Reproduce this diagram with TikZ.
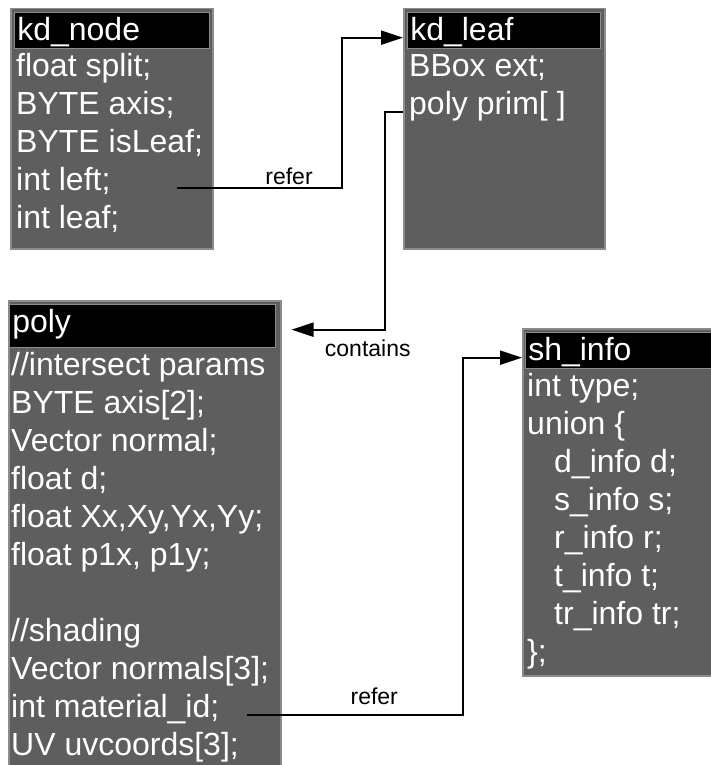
\documentclass[tikz,border=0pt]{standalone}
\usepackage{fontspec}
\setmainfont{Liberation Sans}
\usepackage{xcolor}
\usetikzlibrary{positioning,arrows.meta}
\definecolor{boxgray}{HTML}{5E5E5E}
\definecolor{boxedge}{HTML}{8C8C8C}
\newcommand{\fieldfont}{\fontsize{32pt}{38pt}\selectfont}
\newcommand{\labelfont}{\fontsize{23pt}{27pt}\selectfont}
\tikzset{
  structbox/.style={
    draw=boxedge,
    fill=boxgray,
    rectangle,
    anchor=north west,
    inner sep=0pt,
    line width=1.5pt,
  },
  headbar/.style={
    draw=boxedge,
    fill=black,
    text=white,
    inner xsep=3pt,
    inner ysep=0pt,
    text height=28pt,
    text depth=8pt,
    align=left,
    font=\fieldfont,
    line width=0.6pt,
  },
  field/.style={
    text=white,
    anchor=north west,
    inner xsep=2pt,
    inner ysep=0pt,
    text height=28pt,
    text depth=10pt,
    font=\fieldfont,
  },
  link/.style={line width=2pt, -{Triangle[length=22pt,width=14pt]}},
  linklabel/.style={font=\labelfont, inner sep=1pt},
}

\begin{document}
\begin{tikzpicture}[x=1pt,y=-1pt]
  \path[use as bounding box, fill=white] (0,0) rectangle (711,765);

  % kd_node
  \node[structbox, minimum width=202pt, minimum height=240pt] (kdnode) at (10,8) {};
  \node[headbar, text width=189pt, below right=4pt and 4pt of kdnode.north west] (kdnodeH) {kd\_node};
  \foreach \txt [count=\i] in {float split;,BYTE axis;,BYTE isLeaf;,int left;,int leaf;}
    \node[field] (kdnode-\i) at ([yshift={-(\i-1)*38pt}]kdnodeH.south west) {\txt};

  % kd_leaf
  \node[structbox, minimum width=201pt, minimum height=240pt] (kdleaf) at (403,8) {};
  \node[headbar, text width=187pt, below right=4pt and 4pt of kdleaf.north west] (kdleafH) {kd\_leaf};
  \foreach \txt [count=\i] in {BBox ext;,poly prim[ ]}
    \node[field] (kdleaf-\i) at ([yshift={-(\i-1)*38pt}]kdleafH.south west) {\txt};

  % poly
  \node[structbox, minimum width=272pt, minimum height=480pt] (poly) at (8,300) {};
  \node[headbar, text depth=15pt, text width=260pt, below right=4pt and 1pt of poly.north west] (polyH) {poly};
  \foreach \txt [count=\i] in {//intersect params,BYTE axis[2];,Vector normal;,float d;,
      {float Xx,Xy,Yx,Yy;},{float p1x, p1y;},{},//shading,Vector normals[3];,
      int material\_id;,UV uvcoords[3];}
    \node[field] (poly-\i) at ([yshift={-(\i-1)*38pt}]polyH.south west) {\txt};

  % sh_info
  \node[structbox, minimum width=200pt, minimum height=347pt] (shinfo) at (522,328) {};
  \node[headbar, text width=188pt, below right=4pt and 3pt of shinfo.north west] (shinfoH) {sh\_info};
  \foreach \txt [count=\i] in {int type;,union \{,\hspace*{27pt}d\_info d;,\hspace*{27pt}s\_info s;,
      \hspace*{27pt}r\_info r;,\hspace*{27pt}t\_info t;,\hspace*{27pt}tr\_info tr;,\};}
    \node[field] (shinfo-\i) at ([yshift={-(\i-1)*38pt}]shinfoH.south west) {\txt};

  % connector ends
  \path (kdnode-4.mid -| kdnode.east) ++(-37pt,0) coordinate (kdnodeOut);
  \path (kdleafH.mid -| kdleaf.west) coordinate (kdleafIn);
  \path (kdleaf-2.mid -| kdleaf.west) coordinate (kdleafOut);
  \path (polyH.mid -| poly.east) ++(10pt,0) coordinate (polyIn);
  \path (poly-10.mid -| poly.east) ++(-35pt,0) coordinate (polyOut);
  \path (shinfoH.mid -| shinfo.west) coordinate (shinfoIn);

  \draw[link] (kdnodeOut) -| node[linklabel, above=1pt, pos=0.34] {refer}
    ([xshift=-61pt]kdleafIn) -- (kdleafIn);
  \draw[link] (kdleafOut) -| ([xshift=93pt]polyIn)
    -- node[linklabel, below=8pt, pos=0.18] {contains} (polyIn);
  \draw[link] (polyOut) -| node[linklabel, above=8pt, pos=0.295] {refer}
    ([xshift=-59pt]shinfoIn) -- (shinfoIn);
\end{tikzpicture}
\end{document}
